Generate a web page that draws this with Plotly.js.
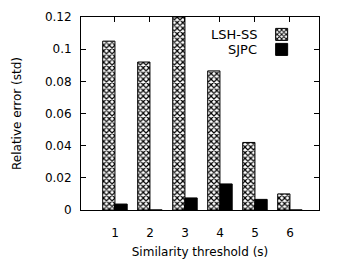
<!DOCTYPE html>
<html>
<head>
<meta charset="utf-8">
<script src="https://cdn.plot.ly/plotly-3.0.1.min.js"></script>
<style>html,body{margin:0;padding:0;background:#fff;}#chart{width:350px;height:262px;}</style>
</head>
<body>
<div id="chart"></div>
<script>
const thresholds = [1, 2, 3, 4, 5, 6];
const lshSS = [0.105, 0.092, 0.12, 0.0865, 0.042, 0.010];
const sjpc = [0.0037, 0, 0.0075, 0.0162, 0.0066, 0];
const seriesNames = ['LSH-SS', 'SJPC'];
const yTicks = [0, 0.02, 0.04, 0.06, 0.08, 0.1, 0.12];
const yTickText = ['0', '0.02', '0.04', '0.06', '0.08', '0.1', '0.12'];

const font = {family: 'DejaVu Sans, Verdana, sans-serif', size: 12, color: '#000'};
const legendTextFont = {family: font.family, size: 13, color: '#000'};

const traces = [
  {
    type: 'bar', x: thresholds, y: lshSS, name: '', legend: 'legend',
    marker: {color: '#fff', line: {color: '#000', width: 1},
      pattern: {shape: 'x', fgcolor: '#000', bgcolor: '#fff', size: 4, solidity: 0.5}},
    showlegend: true
  },
  {
    type: 'bar', x: thresholds, y: sjpc, name: '', legend: 'legend2',
    marker: {color: '#000', line: {color: '#000', width: 1}},
    showlegend: true
  }
];

const legendBase = {xanchor: 'left', yanchor: 'top', bgcolor: 'rgba(0,0,0,0)',
  font: {family: font.family, size: 8}};

const layout = {
  width: 350, height: 262,
  margin: {l: 81, r: 31, t: 17, b: 52},
  paper_bgcolor: '#fff', plot_bgcolor: '#fff',
  font: font,
  barmode: 'group', bargap: 0.3, bargroupgap: 0,
  showlegend: true,
  legend: Object.assign({x: 0.759, y: 0.985}, legendBase),
  legend2: Object.assign({x: 0.759, y: 0.985 - 15 / 193}, legendBase),
  xaxis: {
    range: [0.03, 6.83], tickvals: thresholds, ticktext: thresholds.map(String),
    ticks: 'inside', ticklen: 5, tickcolor: '#000', mirror: 'allticks',
    showline: true, linecolor: '#000', linewidth: 1, showgrid: false, zeroline: false,
    tickfont: font, ticklabelstandoff: 12,
    title: {text: 'Similarity threshold (s)', font: font, standoff: 8}
  },
  yaxis: {
    range: [0, 0.12], tickvals: yTicks, ticktext: yTickText,
    ticks: 'inside', ticklen: 5, tickcolor: '#000', mirror: 'allticks',
    showline: true, linecolor: '#000', linewidth: 1, showgrid: false, zeroline: false,
    tickfont: font, ticklabelstandoff: 6,
    title: {text: 'Relative error (std)', font: font, standoff: 20}
  },
  annotations: [
    {xref: 'paper', yref: 'paper', x: (259 - 81) / 238, y: (210 - 34) / 193, xanchor: 'right', yanchor: 'middle',
      text: seriesNames[0], showarrow: false, font: legendTextFont},
    {xref: 'paper', yref: 'paper', x: (259 - 81) / 238, y: (210 - 49) / 193, xanchor: 'right', yanchor: 'middle',
      text: seriesNames[1], showarrow: false, font: legendTextFont}
  ]
};

Plotly.newPlot('chart', traces, layout, {staticPlot: true, displayModeBar: false});
</script>
</body>
</html>
